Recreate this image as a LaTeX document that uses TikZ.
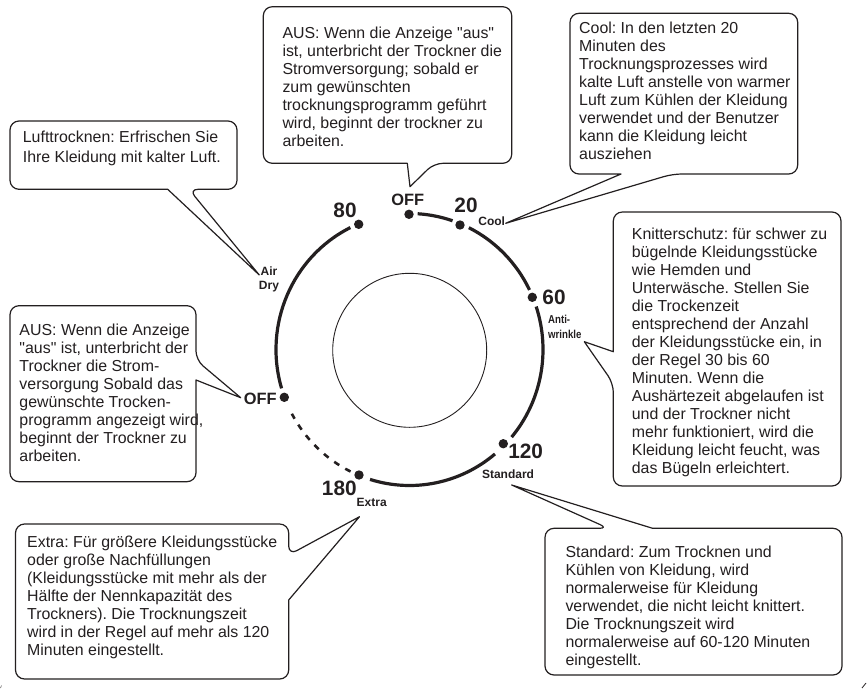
\documentclass[tikz,border=0pt]{standalone}
\usepackage{fontspec}
\setmainfont{Liberation Sans}
\definecolor{ink}{HTML}{231F20}
\newcommand{\dq}{\XeTeXglyph\XeTeXcharglyph34 }
\tikzset{
  x=1pt,y=-1pt,
  callout/.style={draw=ink,line width=1.2pt,fill=white,rounded corners=9pt,line join=round},
  calltext/.style={inner sep=0pt,anchor=north west,align=left,text=ink,font=\fontsize{15.9}{18}\selectfont\frenchspacing,execute at begin node={\rule{0pt}{12.6pt}}},
  big/.style={inner sep=0pt,text=ink,font=\fontsize{20.8}{20}\selectfont\bfseries},
  offlabel/.style={inner sep=0pt,text=ink,font=\fontsize{16.4}{16}\selectfont\bfseries},
  small/.style={inner sep=0pt,text=ink,align=center,font=\fontsize{12}{14}\selectfont\bfseries},
  knob/.style={circle,fill=ink,draw=none,minimum size=9.4pt,inner sep=0pt},
  rim/.style={draw=ink,line width=3.2pt},
}
\newcommand{\rimarc}[3][]{\draw[rim,#1] ({409.5+133.5*cos(#2)},{349.5-136*sin(#2)}) arc[start angle=-#2,end angle=-#3,x radius=133.5,y radius=136];}
\begin{document}
\begin{tikzpicture}
\useasboundingbox (0,0) rectangle (867,688);
% callouts
\draw[callout] (100,121) -- (237,121) -- (237,189.3) -- (189,189.3) [sharp corners] -- (259.3,275) -- (167.7,189.3) [rounded corners=9pt] -- (10,189.3) -- (10,121) -- cycle;
\draw[callout] (380,6.7) -- (511.7,6.7) -- (511.7,163.3) -- (434,163.3) [sharp corners] -- (410,186.7) -- (407.3,163.3) [rounded corners=9pt] -- (263.3,163.3) -- (263.3,6.7) -- cycle;
\draw[callout] (680,13.3) -- (797.7,13.3) -- (797.7,174) -- (672.7,174) [sharp corners] -- (505.7,223.3) -- (621,174) [rounded corners=9pt] -- (570,174) -- (570,13.3) -- cycle;
\draw[callout] (720,212) -- (841,212) -- (841,486) -- (613.3,486) -- (613.3,383.3) [sharp corners] -- (584.3,341.7) -- (613.3,351.7) [rounded corners=9pt] -- (613.3,212) -- cycle;
\draw[callout] (570,528.3) -- (608.4,528.3) [sharp corners] -- (511.7,485) -- (652.6,528.3) [rounded corners=9pt] -- (842,528.3) -- (842,675) -- (545,675) -- (545,528.3) -- cycle;
\draw[callout] (150,524) -- (288.7,524) -- (288.7,555) [sharp corners] -- (359.5,516.7) -- (288.7,600) [rounded corners=9pt] -- (288.7,679) -- (15.5,679) -- (15.5,524) -- cycle;
\draw[callout] (100,305.7) -- (196,305.7) -- (196,360) [sharp corners] -- (240.7,397.7) -- (196,380) [rounded corners=9pt] -- (196,481.7) -- (10,481.7) -- (10,305.7) -- cycle;
% callout texts
\node[calltext,font=\fontsize{15.9}{20}\selectfont\frenchspacing] (tluft) at (22.7,131) {Lufttrocknen: Erfrischen Sie\\Ihre Kleidung mit kalter Luft.};
\node[calltext] (taustop) at (282.3,27) {AUS: Wenn die Anzeige \dq aus\dq\\ist, unterbricht der Trockner die\\Stromversorgung; sobald er\\zum gewünschten\\trocknungsprogramm geführt\\wird, beginnt der trockner zu\\arbeiten.};
\node[calltext] (tcool) at (579,22) {Cool: In den letzten 20\\Minuten des\\Trocknungsprozesses wird\\kalte Luft anstelle von warmer\\Luft zum Kühlen der Kleidung\\verwendet und der Benutzer\\kann die Kleidung leicht\\ausziehen};
\node[calltext] (tknit) at (631.7,228) {Knitterschutz: für schwer zu\\bügelnde Kleidungsstücke\\wie Hemden und\\Unterwäsche. Stellen Sie\\die Trockenzeit\\entsprechend der Anzahl\\der Kleidungsstücke ein, in\\der Regel 30 bis 60\\Minuten. Wenn die\\Aushärtezeit abgelaufen ist\\und der Trockner nicht\\mehr funktioniert, wird die\\Kleidung leicht feucht, was\\das Bügeln erleichtert.};
\node[calltext] (tausleft) at (19.3,324) {AUS: Wenn die Anzeige\\\dq aus\dq\ ist, unterbricht der\\Trockner die Strom-\\versorgung Sobald das\\gewünschte Trocken-\\programm angezeigt wird,\\beginnt der Trockner zu\\arbeiten.};
\node[calltext] (textra) at (27,535.6) {Extra: Für größere Kleidungsstücke\\oder große Nachfüllungen\\(Kleidungsstücke mit mehr als der\\Hälfte der Nennkapazität des\\Trockners). Die Trocknungszeit\\wird in der Regel auf mehr als 120\\Minuten eingestellt.};
\node[calltext] (tstd) at (565.3,545.6) {Standard: Zum Trocknen und\\Kühlen von Kleidung, wird\\normalerweise für Kleidung\\verwendet, die nicht leicht knittert.\\Die Trocknungszeit wird\\normalerweise auf 60-120 Minuten\\eingestellt.};
% dial
\node[draw=ink,line width=.9pt,circle,minimum size=154pt,inner sep=0pt] (hub) at (409.7,350.3) {};
\rimarc{86.5}{71.2}
\rimarc{63.6}{26}
\rimarc{18.4}{-40.1}
\rimarc{-50.2}{-107.2}
\rimarc[line width=2.6pt,dash pattern=on 6pt off 7pt]{-116.2}{-151.8}
\rimarc{116.3}{196.6}
\node[knob] (d0) at (409,214.3) {};
\node[knob] (d20) at (460,225) {};
\node[knob] (d60) at (532.3,297.3) {};
\node[knob] (d120) at (503.3,443.7) {};
\node[knob] (d180) at (359,475) {};
\node[knob] (doff) at (284.3,397.3) {};
\node[knob] (d80) at (358.7,224.3) {};
% labels
\node[offlabel] (loff) at (407.7,200) {OFF};
\node[offlabel] (loffl) at (260.3,399.3) {OFF};
\node[big] (l20) at (466,205.7) {20};
\node[big] (l80) at (345,210) {80};
\node[big] (l60) at (554,297) {60};
\node[big] (l120) at (525.7,451.7) {120};
\node[big] (l180) at (339.3,488.3) {180};
\node[small] (lair) at (269,279.5) {Air\\Dry};
\node[small] (lcool) at (491.7,221.7) {Cool};
\node[small] (lextra) at (371.7,502.3) {Extra};
\node[small] (lstd) at (508,474.3) {Standard};
\node[small,align=left,anchor=north west,xscale=.84,transform shape,font=\fontsize{11.5}{15}\selectfont\bfseries] (lanti) at (548,314.5) {Anti-\\wrinkle};
% trim marks
\draw[ink,line width=.8pt] (862,688) -- (866,683);
\draw[ink!60,line width=.7pt] (0.5,688) -- (1.5,685.5);
\end{tikzpicture}
\end{document}
